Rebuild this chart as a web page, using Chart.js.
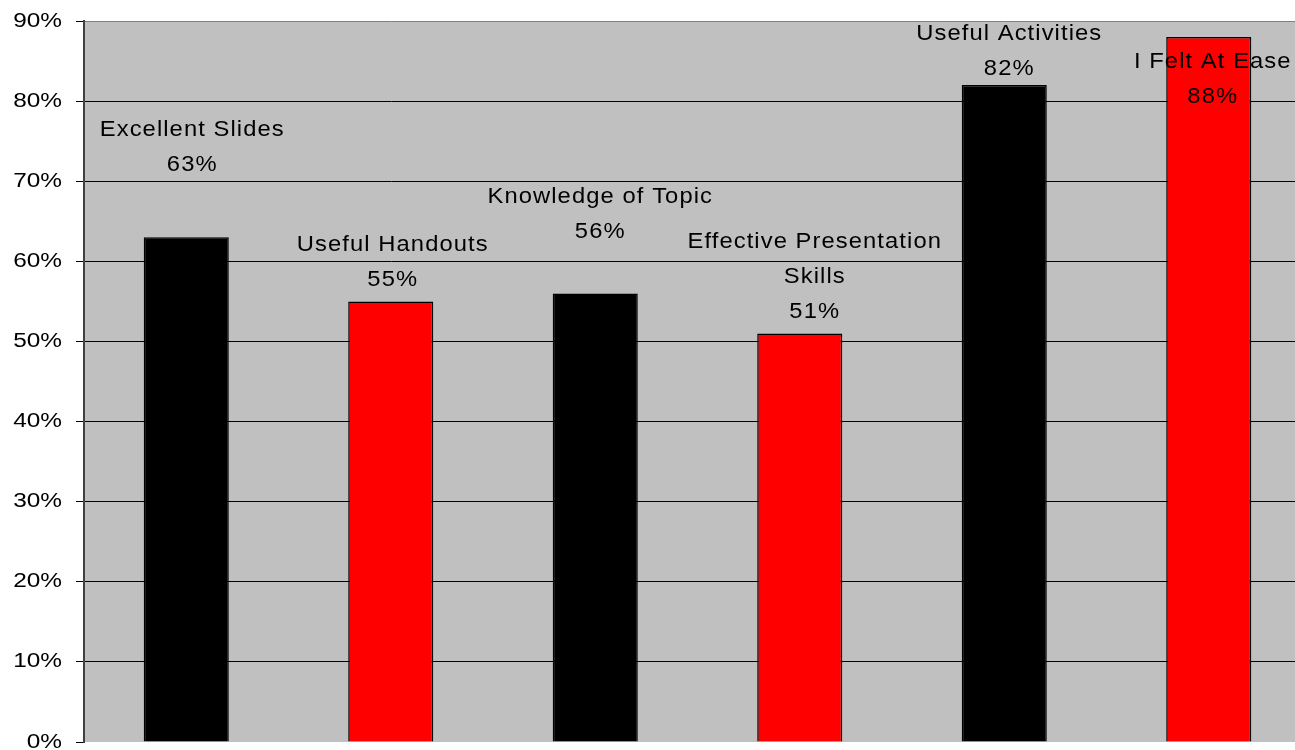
<!DOCTYPE html>
<html>
<head>
<meta charset="utf-8">
<script src="https://cdn.jsdelivr.net/npm/chart.js@4/dist/chart.umd.min.js"></script>
<style>
  html, body { margin: 0; padding: 0; background: #ffffff; overflow: hidden; }
  canvas { display: block; }
</style>
</head>
<body>
<canvas id="chart" width="1311" height="750"></canvas>
<script>
// Survey categories (multi-line names) and the share of positive answers, in percent
const categories = [
  ['Excellent Slides'],
  ['Useful Handouts'],
  ['Knowledge of Topic'],
  ['Effective Presentation', 'Skills'],
  ['Useful Activities'],
  ['I Felt At Ease']
];
const ratings = [63, 55, 56, 51, 82, 88];

// Value axis range and tick spacing
const axisMin = 0;
const axisMax = 90;
const axisStep = 10;
const tickSuffix = '%';

// Presentation: bar colours and where each value label sits relative to its bar
const barColors = ['#000000', '#FF0000', '#000000', '#FF0000', '#000000', '#FF0000'];
const labelPlacement = [
  { dx: 6,  dy: -72 },
  { dx: 2,  dy: -21 },
  { dx: 5,  dy: -61 },
  { dx: 15, dy: -21 },
  { dx: 5,  dy: -16 },
  { dx: 4,  dy: 60 }
];
const LINE_GAP = 35;
const FONT = '"Liberation Sans", Arial, Helvetica, sans-serif';

function wideText(ctx, text, x, y, stretch, align) {
  ctx.save();
  ctx.translate(x, y);
  ctx.scale(stretch, 1);
  ctx.textAlign = align;
  ctx.fillText(text, 0, 0);
  ctx.restore();
}

// Grey plot area
const plotBackground = {
  id: 'plotBackground',
  beforeDraw(chart) {
    const { ctx, chartArea: a } = chart;
    ctx.save();
    ctx.fillStyle = '#C0C0C0';
    ctx.fillRect(a.left, a.top, a.right - a.left, a.bottom - a.top);
    ctx.restore();
  }
};

// Percent tick labels on the value axis, in a wide face
const axisText = {
  id: 'axisText',
  afterDraw(chart) {
    const ctx = chart.ctx;
    const scale = chart.scales.y;
    ctx.save();
    ctx.font = '20px ' + FONT;
    ctx.fillStyle = '#000000';
    ctx.textBaseline = 'middle';
    scale.ticks.forEach(t => {
      const y = scale.getPixelForValue(t.value);
      wideText(ctx, t.value + tickSuffix, 62, y, 1.22, 'right');
    });
    ctx.restore();
  }
};

// Category name and value printed by each bar
const barLabels = {
  id: 'barLabels',
  afterDatasetsDraw(chart) {
    const ctx = chart.ctx;
    const meta = chart.getDatasetMeta(0);
    ctx.save();
    ctx.font = '22px ' + FONT;
    ctx.fillStyle = '#000000';
    ctx.textBaseline = 'middle';
    ctx.letterSpacing = '1px';
    meta.data.forEach((bar, i) => {
      const lines = categories[i].concat([ratings[i] + '%']);
      const place = labelPlacement[i];
      const lastY = bar.y + place.dy;
      lines.forEach((line, k) => {
        const y = lastY - (lines.length - 1 - k) * LINE_GAP;
        wideText(ctx, line, bar.x + place.dx, y, 1.08, 'center');
      });
    });
    ctx.restore();
  }
};

new Chart(document.getElementById('chart'), {
  type: 'bar',
  data: {
    labels: categories,
    datasets: [{
      data: ratings,
      backgroundColor: barColors,
      borderColor: '#000000',
      borderWidth: 1.5,
      barPercentage: 1,
      categoryPercentage: 0.416
    }]
  },
  options: {
    responsive: false,
    animation: false,
    layout: { padding: { top: 21, bottom: 8, left: 0, right: 0 } },
    plugins: {
      legend: { display: false },
      tooltip: { enabled: false }
    },
    scales: {
      x: { display: false },
      y: {
        min: axisMin,
        max: axisMax,
        ticks: { stepSize: axisStep, display: false },
        grid: {
          color: c => (c.tick && c.tick.value === axisMin) ? 'rgba(0,0,0,0)'
                    : (c.tick && c.tick.value === axisMax) ? '#808080' : '#000000',
          tickColor: '#000000',
          lineWidth: 1,
          drawTicks: true,
          tickLength: 8
        },
        border: { color: '#404040', width: 2 },
        afterFit(scale) { scale.width = 84; }
      }
    }
  },
  plugins: [plotBackground, axisText, barLabels]
});
</script>
</body>
</html>
